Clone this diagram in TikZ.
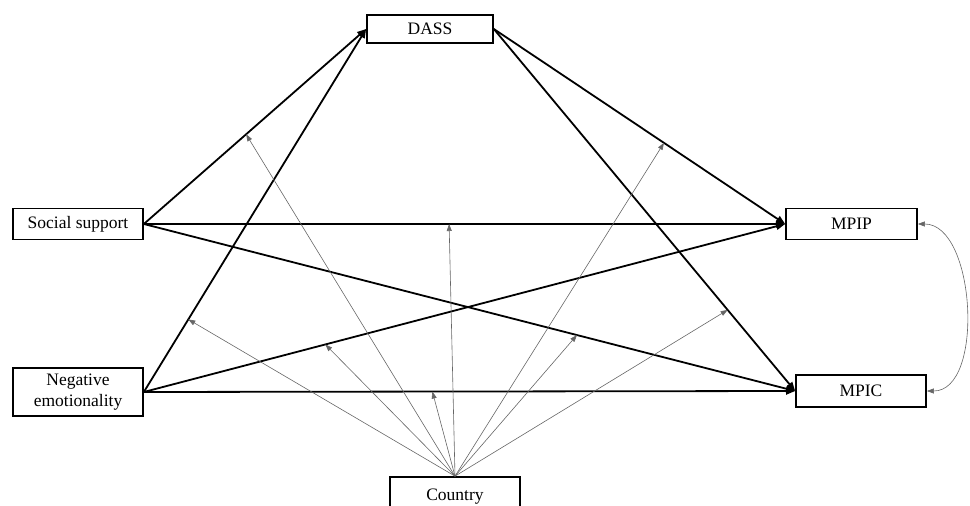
\documentclass[tikz,border=0pt]{standalone}
\usepackage{fontspec}
\setmainfont{Liberation Serif}
\usetikzlibrary{arrows.meta}

\begin{document}
\begin{tikzpicture}[x=1pt,y=1pt]
  \tikzset{var/.style={draw,line width=1.7pt,inner sep=0pt,minimum width=130pt,minimum height=31pt,
      align=center,font=\fontsize{17.5}{21}\selectfont},
    effect/.style={line width=1.8pt,-{Triangle[length=9pt,width=7pt]}},
    moder/.style={black!60,line width=0.6pt,-{Triangle[length=7pt,width=5pt]}}}
  \useasboundingbox (0,0) rectangle (970,506);
  \node[var,minimum width=126pt,minimum height=28pt] (dass) at (430,477) {DASS};
  \node[var] (soc) at (78,282) {Social support};
  \node[var,minimum height=48pt] (neg) at (78,114) {Negative\\emotionality};
  \node[var,minimum width=131pt] (mpip) at (851.5,282) {MPIP};
  \node[var,minimum height=32pt] (mpic) at (861,115) {MPIC};
  \node[var,minimum height=40pt] (country) at (455,9) {Country};
  % direct and indirect paths
  \draw[effect] (soc.east) -- coordinate[pos=0.46] (m1) (dass.west);
  \draw[effect] (neg.east) -- coordinate[pos=0.20] (m2) (dass.west);
  \draw[effect] (dass.east) -- coordinate[pos=0.584] (m3) (mpip.west);
  \draw[effect] (dass.east) -- coordinate[pos=0.776] (m4) (mpic.west);
  \draw[effect] (soc.east) -- coordinate[pos=0.476] (m5) (mpip.west);
  \draw[effect] (soc.east) -- coordinate[pos=0.665] (m6) (mpic.west);
  \draw[effect] (neg.east) -- coordinate[pos=0.283] (m7) (mpip.west);
  \draw[effect] (neg.east) -- coordinate[pos=0.443] (m8) (mpic.west);
  % moderation by country
  \foreach \m in {m1,m2,m3,m4,m5,m6,m7,m8}
    \draw[moder] (country.north) -- (\m);
  \draw[black!60,line width=0.6pt,{Triangle[length=7pt,width=5pt]}-{Triangle[length=7pt,width=5pt]}]
    (mpip.east) to[out=0,in=0,distance=58pt] (mpic.east);
\end{tikzpicture}
\end{document}
